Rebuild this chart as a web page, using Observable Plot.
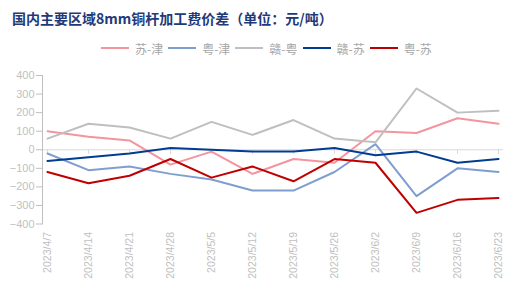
<!DOCTYPE html>
<html><head><meta charset="utf-8">
<script src="https://cdn.jsdelivr.net/npm/d3@7"></script>
<script src="https://cdn.jsdelivr.net/npm/@observablehq/plot@0.6"></script>
<style>
body{margin:0;background:#fff;width:522px;height:295px;overflow:hidden;font-family:"Noto Sans CJK SC",sans-serif;}
#title{height:36px;line-height:36px;padding-left:12px;font-size:14px;font-weight:bold;color:#1F3A78;white-space:nowrap;}
#legend{height:24px;display:flex;align-items:center;padding-left:101px;font-size:12px;color:#A6A6A6;}
#legend .it{display:flex;align-items:center;margin-right:5px;}
#legend .sw{width:28px;height:2px;margin-right:6px;}
svg{display:block;}
</style></head>
<body>
<div id="title">国内主要区域8mm铜杆加工费价差（单位：元/吨）</div>
<div id="legend"></div>
<div id="chart"></div>
<script>
const dates = ["2023/4/7","2023/4/14","2023/4/21","2023/4/28","2023/5/5","2023/5/12","2023/5/19","2023/5/26","2023/6/2","2023/6/9","2023/6/16","2023/6/23"];
const seriesNames = ["苏-津","粤-津","赣-粤","赣-苏","粤-苏"];
const suJin  = [100, 70, 50, -80, -10, -130, -50, -70, 100, 90, 170, 140];
const yueJin = [-20, -110, -90, -130, -160, -220, -220, -120, 30, -250, -100, -120];
const ganYue = [60, 140, 120, 60, 150, 80, 160, 60, 40, 330, 200, 210];
const ganSu  = [-60, -40, -20, 10, 0, -10, -10, 10, -30, -10, -70, -50];
const yueSu  = [-120, -180, -140, -50, -150, -90, -170, -50, -70, -340, -270, -260];
const yTicks = [-400,-300,-200,-100,0,100,200,300,400];
const colors = ["#F4949E","#7F9ED0","#BFBFBF","#003C8F","#C00000"];

const allSeries = [suJin, yueJin, ganYue, ganSu, yueSu];
const data = [];
allSeries.forEach((vals, i) => vals.forEach((v, j) => data.push({series: seriesNames[i], date: dates[j], value: v})));

const lg = document.getElementById("legend");
seriesNames.forEach((n, i) => {
  const it = document.createElement("div"); it.className = "it";
  it.innerHTML = `<span class="sw" style="background:${colors[i]}"></span><span>${n}</span>`;
  lg.appendChild(it);
});

const chart = Plot.plot({
  width: 522, height: 235,
  marginLeft: 42, marginRight: 19, marginTop: 15, marginBottom: 71.5,
  x: {type: "point", domain: dates, padding: 0.05},
  y: {domain: [-400, 400]},
  color: {domain: seriesNames, range: colors},
  style: {fontFamily: "'Liberation Sans', Arial, sans-serif", color: "#BFBFBF", background: "#fff"},
  marks: [
    Plot.ruleY([0], {stroke: "#D9D9D9"}),
    Plot.ruleX(dates, {x: d => d, y1: 0, y2: -25, stroke: "#D9D9D9"}),
    Plot.frame({anchor: "left", stroke: "#BFBFBF"}),
    Plot.axisY({ticks: yTicks, tickSize: 6, tickPadding: 2, fontSize: 11, stroke: "#BFBFBF", fill: "#BFBFBF", label: null}),
    Plot.axisX({anchor: "bottom", tickSize: 0, tickRotate: -90, tickPadding: 8, fontSize: 10.5, fill: "#BFBFBF", label: null}),
    Plot.line(data, {x: "date", y: "value", z: "series", stroke: "series", strokeWidth: 2})
  ]
});
document.getElementById("chart").appendChild(chart);
</script>
</body></html>
